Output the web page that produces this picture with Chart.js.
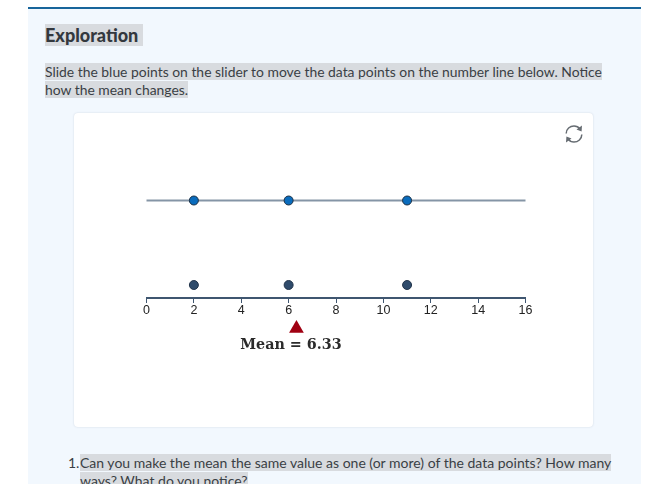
<!DOCTYPE html>
<html>
<head>
<meta charset="utf-8">
<script src="https://cdn.jsdelivr.net/npm/chart.js@4"></script>
<style>
    html, body { margin: 0; padding: 0; background: #fff; overflow: hidden; }
    body { width: 652px; height: 484px; position: relative; font-family: Lato, sans-serif; color: #3a3f45; }
    .panel { position: absolute; left: 28px; top: 7px; width: 613px; height: 477px; background: #f2f8fe; border-top: 2px solid #17659b; }
    .hl { background: #d8dbdf; }
    h2 { position: absolute; left: 45px; top: 25px; margin: 0; font-size: 18px; line-height: 21px; font-weight: 900; color: #33383e; }
    .intro { position: absolute; left: 45px; top: 63px; width: 566px; font-size: 13.9px; line-height: 17.5px; }
    .card { position: absolute; left: 74px; top: 113px; width: 519px; height: 314px; background: #fff; border-radius: 4px; box-shadow: 0 0 2px rgba(60, 80, 110, 0.2); }
    .card canvas { position: absolute; left: 0; top: 0; }
    .reset { position: absolute; left: 564px; top: 124px; }
    .question { position: absolute; left: 68px; top: 454px; width: 560px; font-size: 14px; line-height: 17.5px; }
    .question span.num { position: absolute; left: 0; top: 0; }
    .question div { margin-left: 12px; }
</style>
</head>
<body>
<div class="panel"></div>
<h2><span class="hl">Exploration&nbsp;</span></h2>
<div class="intro"><span class="hl">Slide the blue points on the slider to move the data points on the number line below. Notice how the mean changes.</span></div>
<div class="card"><canvas id="chartMean" width="519" height="314"></canvas></div>
<svg class="reset" width="20" height="20" viewBox="0 0 20 20" fill="none" stroke="#666c72" stroke-width="1.5">
    <path d="M2.2 9.5 C2.2 5 6 2 10 2 C12.5 2 14.5 3 16 5"/>
    <path d="M17.8 10.5 C17.8 15 14 18 10 18 C7.5 18 5.5 17 4 15"/>
    <path d="M18 1.5 L17.6 7.5 L12.5 5.5 Z" fill="#666c72" stroke="none"/>
    <path d="M2 18.5 L2.4 12.5 L7.5 14.5 Z" fill="#666c72" stroke="none"/>
</svg>
<div class="question"><span class="num">1.</span><div><span class="hl">Can you make the mean the same value as one (or more) of the data points? How many ways? What do you notice?</span></div></div>

<script>
// Datos del grafico
const datos = [2, 6, 11];
const media = [6.33];
const extremos = [0, 16];
const etiquetaMedia = 'Mean = 6.33';

// Filas verticales (1 unidad = 13px)
const filaSlider = 7.5;
const filaPuntos = 1;
const filaMedia = -2.35;
const filaEtiqueta = -3.62;

// Escribe el texto de la media debajo del triangulo
const textoMedia = {
    id: 'textoMedia',
    afterDatasetsDraw(chart) {
        const { ctx, scales } = chart;
        ctx.save();
        ctx.font = 'bold 14.3px "DejaVu Serif", serif';
        ctx.fillStyle = '#2b2b2b';
        ctx.textAlign = 'center';
        ctx.textBaseline = 'middle';
        ctx.fillText(etiquetaMedia, scales.x.getPixelForValue(media[0]) - 5.5, scales.y.getPixelForValue(filaEtiqueta));
        ctx.restore();
    }
};

new Chart(document.getElementById('chartMean'), {
    type: 'scatter',
    data: {
        datasets: [
            {
                label: 'Slider',
                type: 'line',
                data: extremos.map(x => ({ x, y: filaSlider })),
                borderColor: '#8595a6',
                borderWidth: 2,
                borderCapStyle: 'square',
                pointRadius: 0,
                order: 3
            },
            {
                label: 'Puntos slider',
                data: datos.map(x => ({ x, y: filaSlider })),
                backgroundColor: '#0a6cbd',
                borderColor: '#1d2f42',
                borderWidth: 1,
                pointRadius: 4.5,
                order: 1
            },
            {
                label: 'Datos',
                data: datos.map(x => ({ x, y: filaPuntos })),
                backgroundColor: '#2f4b6b',
                borderColor: '#22344a',
                borderWidth: 1,
                pointRadius: 4.5,
                order: 1
            },
            {
                label: 'Media',
                data: media.map(x => ({ x, y: filaMedia })),
                pointStyle: 'triangle',
                backgroundColor: '#a00012',
                borderColor: '#a00012',
                borderWidth: 0,
                pointRadius: 8.5,
                order: 1
            }
        ]
    },
    plugins: [textoMedia],
    options: {
        responsive: false,
        animation: false,
        layout: { padding: { left: 72.5, right: 67.5, top: 16, bottom: 51 } },
        plugins: {
            legend: { display: false },
            tooltip: { enabled: false }
        },
        scales: {
            x: {
                type: 'linear',
                position: { y: 0 },
                min: 0,
                max: 16,
                grid: { drawOnChartArea: false, drawTicks: true, tickLength: 4, color: '#3f5670' },
                border: { display: true, color: '#3f5670', width: 2 },
                ticks: {
                    stepSize: 2,
                    maxRotation: 0,
                    padding: 1,
                    color: '#222',
                    font: { family: '"Liberation Sans", sans-serif', size: 12.5 }
                }
            },
            y: {
                type: 'linear',
                display: false,
                min: -6,
                max: 13
            }
        }
    }
});
</script>
</body>
</html>
